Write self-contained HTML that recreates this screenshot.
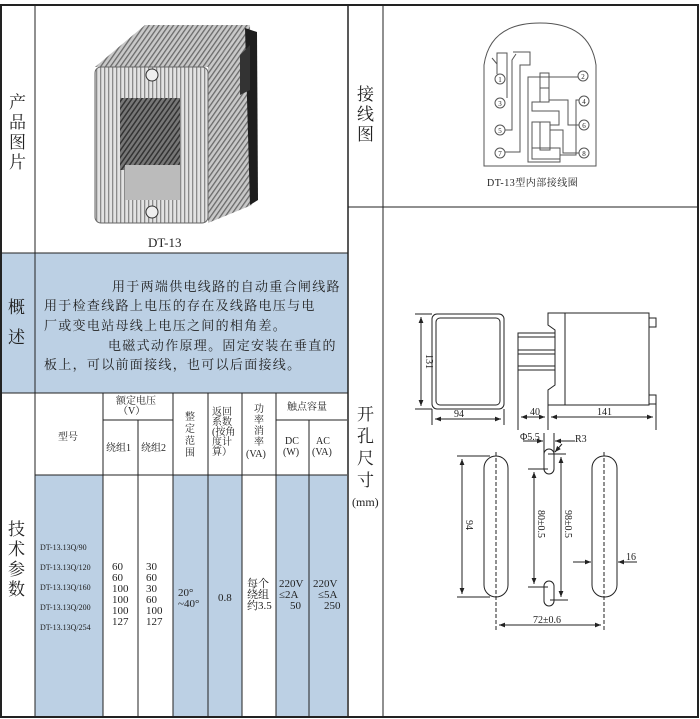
<!DOCTYPE html>
<html><head><meta charset="utf-8"><style>
html,body{margin:0;padding:0;background:#fff;}
svg{display:block;}
text{font-family:"Liberation Serif","Noto Serif CJK SC",serif;fill:#222;}
</style></head><body>
<svg width="700" height="719" viewBox="0 0 700 719" xmlns="http://www.w3.org/2000/svg">
<defs>
<marker id="a" viewBox="0 0 10 10" refX="10" refY="5" markerWidth="6" markerHeight="6" orient="auto-start-reverse"><path d="M0,1 L10,5 L0,9 z" fill="#222"/></marker>
<pattern id="vs" width="4" height="4" patternUnits="userSpaceOnUse"><rect width="4" height="4" fill="#e2e2e2"/><rect width="1.3" height="4" fill="#8a8a8a"/></pattern>
<pattern id="ds" width="4" height="4" patternUnits="userSpaceOnUse" patternTransform="rotate(35)"><rect width="4" height="4" fill="#c8c8c8"/><rect width="1.3" height="4" fill="#6a6a6a"/></pattern>
<pattern id="ws" width="4" height="4" patternUnits="userSpaceOnUse" patternTransform="rotate(35)"><rect width="4" height="4" fill="#777"/><rect width="1.5" height="4" fill="#333"/></pattern>
</defs>
<rect x="35" y="253" width="313" height="140" fill="#bcd0e4"/>
<rect x="0" y="253" width="35" height="140" fill="#bcd0e4"/>
<rect x="35" y="475" width="68" height="242" fill="#bcd0e4"/>
<rect x="173" y="475" width="69" height="242" fill="#bcd0e4"/>
<rect x="276" y="475" width="71" height="242" fill="#bcd0e4"/>
<g stroke="#222" fill="none">
<rect x="1" y="5" width="697" height="712" stroke-width="2"/>
<line x1="35" y1="5" x2="35" y2="717"/>
<line x1="348" y1="5" x2="348" y2="717" stroke-width="1.5"/>
<line x1="383" y1="5" x2="383" y2="717"/>
<line x1="0" y1="253" x2="348" y2="253"/>
<line x1="0" y1="393" x2="348" y2="393"/>
<line x1="348" y1="207" x2="698" y2="207"/>
<line x1="103" y1="393" x2="103" y2="717"/>
<line x1="138" y1="420" x2="138" y2="717"/>
<line x1="173" y1="393" x2="173" y2="717"/>
<line x1="208" y1="393" x2="208" y2="717"/>
<line x1="242" y1="393" x2="242" y2="717"/>
<line x1="276" y1="393" x2="276" y2="717"/>
<line x1="309" y1="420" x2="309" y2="717"/>
<line x1="103" y1="420" x2="173" y2="420"/>
<line x1="276" y1="420" x2="347" y2="420"/>
<line x1="35" y1="475" x2="347" y2="475"/>
</g>
<g font-size="17">
<text x="9" y="108">产</text><text x="9" y="128">品</text><text x="9" y="148">图</text><text x="9" y="168">片</text>
<text x="8" y="313">概</text><text x="8" y="343">述</text>
<text x="8" y="535">技</text><text x="8" y="555">术</text><text x="8" y="575">参</text><text x="8" y="595">数</text>
<text x="357" y="100">接</text><text x="357" y="120">线</text><text x="357" y="140">图</text>
<text x="357" y="420">开</text><text x="357" y="442">孔</text><text x="357" y="464">尺</text><text x="357" y="486">寸</text>
</g>
<text x="352" y="506" font-size="12">(mm)</text>
<!-- photo -->
<polygon points="95,67 145,25 250,25 208,67" fill="url(#ds)"/>
<polygon points="208,67 250,25 252,205 208,223" fill="url(#ds)"/>
<polygon points="245,28 257,32 258,200 250,205" fill="#1e1e1e"/>
<polygon points="240,55 250,45 250,90 240,95" fill="#333"/>
<rect x="95" y="67" width="113" height="156" rx="6" fill="url(#vs)" stroke="#666"/>
<rect x="120" y="98" width="60" height="72" fill="url(#ws)"/>
<rect x="125" y="165" width="55" height="35" fill="#bbb"/>
<circle cx="152" cy="75" r="6" fill="#eee" stroke="#333"/>
<circle cx="152" cy="212" r="6" fill="#eee" stroke="#333"/>
<text x="148" y="247" font-size="13">DT-13</text>
<g font-size="13">
<text x="112" y="291" letter-spacing="1.3">用于两端供电线路的自动重合闸线路</text>
<text x="44" y="310" letter-spacing="1.3">用于检查线路上电压的存在及线路电压与电</text>
<text x="44" y="330" letter-spacing="1.3">厂或变电站母线上电压之间的相角差。</text>
<text x="108" y="350" letter-spacing="1.3">电磁式动作原理。固定安装在垂直的</text>
<text x="44" y="369" letter-spacing="1.3">板上，可以前面接线，也可以后面接线。</text>
</g>
<g font-size="10">
<text x="116" y="404">额定电压</text><text x="118" y="414">（V）</text>
<text x="58" y="440">型号</text>
<text x="106" y="451">绕组1</text><text x="141" y="451">绕组2</text>
<text x="185" y="420">整</text><text x="185" y="432">定</text><text x="185" y="444">范</text><text x="185" y="456">围</text>
<text x="212" y="415">返回</text><text x="212" y="425">系数</text><text x="212" y="435">(按角</text><text x="212" y="445">度计</text><text x="212" y="455">算）</text>
<text x="254" y="412">功</text><text x="254" y="423">率</text><text x="254" y="434">消</text><text x="254" y="445">率</text><text x="246" y="457">(VA)</text>
<text x="287" y="410">触点容量</text>
<text x="285" y="444">DC</text><text x="283" y="455">(W)</text>
<text x="316" y="444">AC</text><text x="312" y="455">(VA)</text>
</g>
<g font-size="8">
<text x="40" y="550">DT-13.13Q/90</text>
<text x="40" y="570">DT-13.13Q/120</text>
<text x="40" y="590">DT-13.13Q/160</text>
<text x="40" y="610">DT-13.13Q/200</text>
<text x="40" y="630">DT-13.13Q/254</text>
</g>
<g font-size="11">
<text x="112" y="570">60</text><text x="112" y="581">60</text><text x="112" y="592">100</text><text x="112" y="603">100</text><text x="112" y="614">100</text><text x="112" y="625">127</text>
<text x="146" y="570">30</text><text x="146" y="581">60</text><text x="146" y="592">30</text><text x="146" y="603">60</text><text x="146" y="614">100</text><text x="146" y="625">127</text>
<text x="178" y="596">20°</text><text x="178" y="607">~40°</text>
<text x="218" y="601">0.8</text>
<text x="247" y="587">每个</text><text x="247" y="598">绕组</text><text x="247" y="609">约3.5</text>
<text x="279" y="587">220V</text><text x="279" y="598">≤2A</text><text x="290" y="609">50</text>
<text x="313" y="587">220V</text><text x="318" y="598">≤5A</text><text x="324" y="609">250</text>
</g>
<g stroke="#555" fill="none" stroke-width="1">
<path d="M484,166 L484,65 Q490,23 540,23 Q590,23 596,65 L596,166 Z"/>
<polyline points="492,58 497,64"/><polyline points="497,74 497,53 507,53 507,98"/>
<polyline points="516,54 512,60 512,130 505,130"/><polyline points="513,52 530,52 530,65 520,65 520,152 505,152"/>
<rect x="540" y="73" width="9" height="29"/><line x1="540" y1="88" x2="549" y2="88"/>
<rect x="540" y="122" width="10" height="28"/>
<rect x="532" y="148" width="28" height="11"/>
<polyline points="578,77 528,77 528,162 560,162 560,159"/>
<polyline points="549,100 568,100 568,125 579,125"/>
<polyline points="545,102 532,102 532,111 559,111 559,125 550,125"/>
<polyline points="540,122 532,122 532,148"/>
<polyline points="580,100 576,100 576,155 560,155"/>
<polyline points="550,130 563,130 563,153 579,153"/>
</g>
<g fill="#fff" stroke="#555">
<circle cx="500" cy="79" r="5"/><circle cx="500" cy="103" r="5"/><circle cx="500" cy="130" r="5"/><circle cx="500" cy="153" r="5"/>
<circle cx="583" cy="76" r="5"/><circle cx="584" cy="101" r="5"/><circle cx="584" cy="125" r="5"/><circle cx="584" cy="153" r="5"/>
</g>
<g font-size="7" text-anchor="middle">
<text x="500" y="82">1</text><text x="500" y="106">3</text><text x="500" y="133">5</text><text x="500" y="156">7</text>
<text x="583" y="79">2</text><text x="584" y="104">4</text><text x="584" y="128">6</text><text x="584" y="156">8</text>
</g>
<text x="487" y="186" font-size="10" letter-spacing="0.5">DT-13型内部接线圈</text>
<g stroke="#222" fill="none" stroke-width="1">
<rect x="432" y="314" width="72" height="95" rx="5"/>
<rect x="436" y="318" width="64" height="87" rx="4"/>
<line x1="415" y1="314" x2="432" y2="314"/><line x1="415" y1="409" x2="432" y2="409"/>
<line x1="421" y1="317" x2="421" y2="406" marker-start="url(#a)" marker-end="url(#a)"/>
<line x1="432" y1="409" x2="432" y2="425"/><line x1="504" y1="409" x2="504" y2="425"/>
<line x1="435" y1="419" x2="501" y2="419" marker-start="url(#a)" marker-end="url(#a)"/>
<path d="M548,313 L649,313 L649,405 L548,405 L548,390 L555,385 L555,330 L548,325 Z"/>
<line x1="565" y1="313" x2="565" y2="405"/>
<rect x="518" y="333" width="37" height="4"/><rect x="518" y="350" width="37" height="4"/><rect x="518" y="366" width="37" height="4"/>
<line x1="518" y1="337" x2="518" y2="430"/>
<rect x="649" y="318" width="7" height="9"/><rect x="649" y="395" width="7" height="9"/>
<line x1="548" y1="405" x2="548" y2="430"/><line x1="656" y1="404" x2="656" y2="430"/>
<line x1="521" y1="417" x2="545" y2="417" marker-start="url(#a)" marker-end="url(#a)"/>
<line x1="551" y1="417" x2="653" y2="417" marker-start="url(#a)" marker-end="url(#a)"/>
<rect x="484" y="456" width="24" height="141" rx="12"/>
<rect x="592" y="456" width="25" height="141" rx="12"/>
<line x1="496" y1="452" x2="496" y2="630" stroke-dasharray="4,2"/>
<line x1="604" y1="452" x2="604" y2="630" stroke-dasharray="4,2"/>
<line x1="457" y1="456" x2="490" y2="456"/><line x1="457" y1="597" x2="490" y2="597"/>
<line x1="462" y1="459" x2="462" y2="594" marker-start="url(#a)" marker-end="url(#a)"/>
<rect x="544" y="449" width="10" height="25" rx="5"/>
<rect x="544" y="581" width="10" height="25" rx="5"/>
<line x1="544" y1="433" x2="544" y2="455"/><line x1="554" y1="433" x2="554" y2="455"/>
<line x1="523" y1="441" x2="543" y2="441" marker-end="url(#a)"/>
<line x1="575" y1="441" x2="555" y2="441" marker-end="url(#a)"/>
<line x1="562" y1="444" x2="555" y2="452" marker-end="url(#a)"/>
<line x1="548" y1="454" x2="566" y2="454"/>
<line x1="528" y1="469" x2="548" y2="469"/><line x1="528" y1="587" x2="548" y2="587"/>
<line x1="534" y1="472" x2="534" y2="584" marker-start="url(#a)" marker-end="url(#a)"/>
<line x1="550" y1="600" x2="568" y2="600"/>
<line x1="561" y1="457" x2="561" y2="597" marker-start="url(#a)" marker-end="url(#a)"/>
<line x1="573" y1="562" x2="591" y2="562" marker-end="url(#a)"/>
<line x1="637" y1="562" x2="618" y2="562" marker-end="url(#a)"/>
<line x1="499" y1="625" x2="601" y2="625" marker-start="url(#a)" marker-end="url(#a)"/>
</g>
<g font-size="10">
<text x="454" y="417">94</text><text x="530" y="415">40</text><text x="597" y="415">141</text>
<text x="520" y="440">Φ5.5</text><text x="575" y="442">R3</text>
<text x="626" y="560">16</text><text x="533" y="623">72±0.6</text>
<text transform="translate(426,354) rotate(90)">131</text>
<text transform="translate(466,520) rotate(90)">94</text>
<text transform="translate(538,510) rotate(90)">80±0.5</text>
<text transform="translate(565,510) rotate(90)">98±0.5</text>
</g>
</svg>
</body></html>
